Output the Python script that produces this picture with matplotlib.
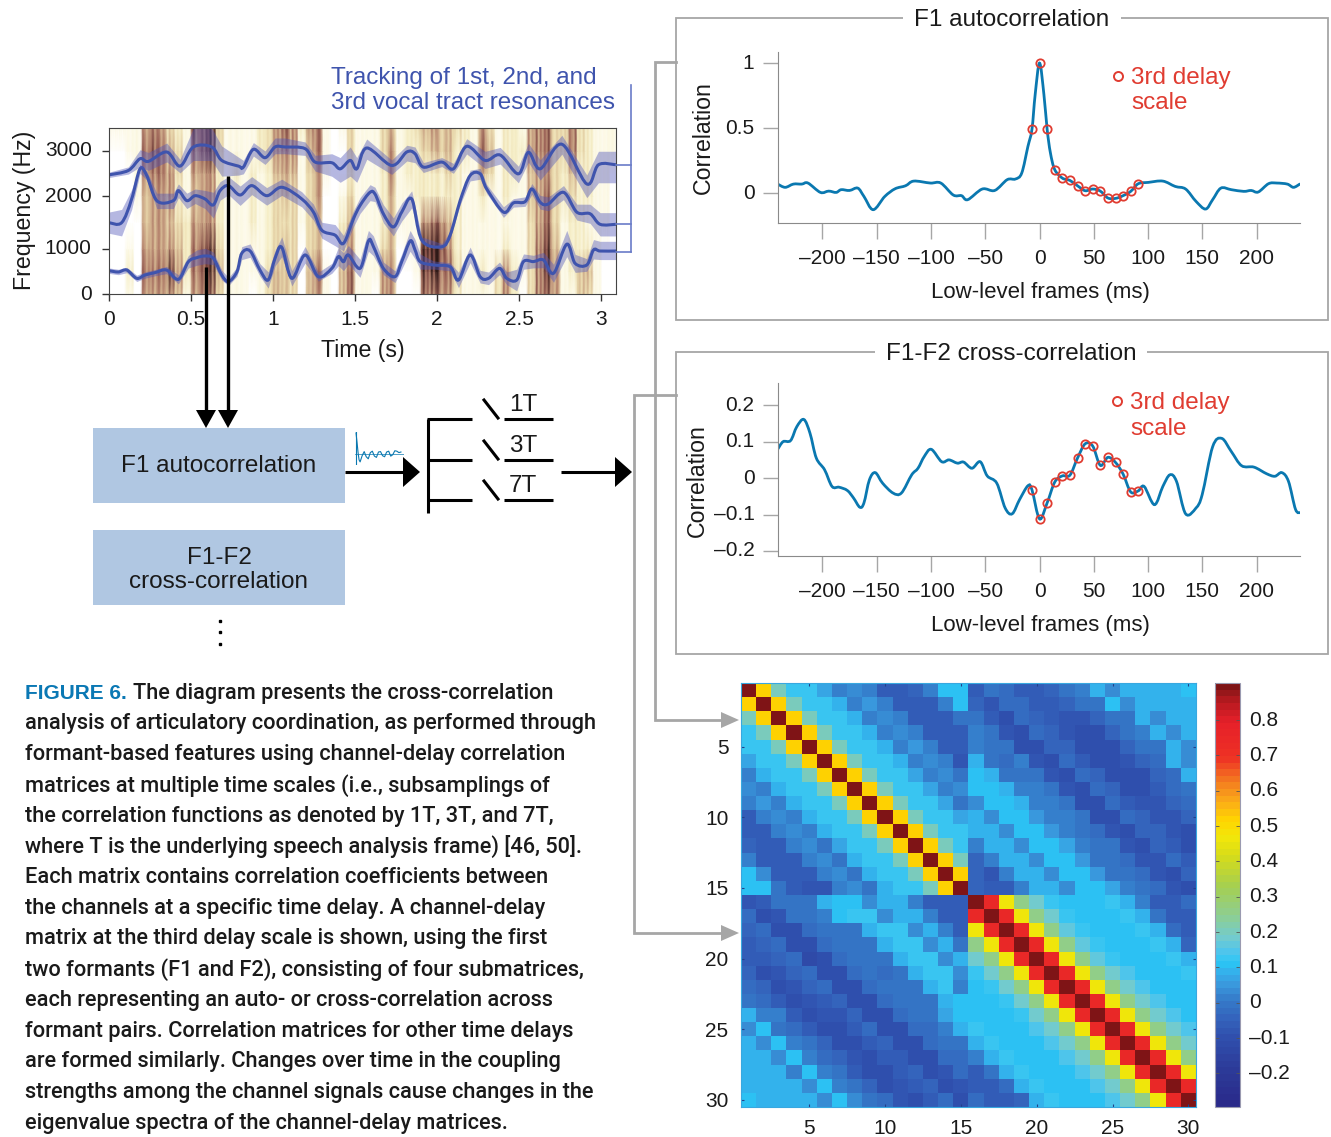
# -*- coding: utf-8 -*-
"""Channel-delay correlation figure: spectrogram, two correlation plots, matrix"""

import matplotlib

matplotlib.use("Agg")
import matplotlib.pyplot as plt
from matplotlib.colors import LinearSegmentedColormap
from matplotlib.patches import PathPatch, Polygon, Rectangle
from matplotlib.path import Path
from numpy import array, concatenate, interp, repeat

plt.rcParams["font.family"] = ["Liberation Sans", "DejaVu Sans"]

W, H = 1331, 1137

# Spectrogram intensity, one row per frequency, one digit per 0.05 s
spec_freqs = [0, 500, 1000, 1500, 2000, 2500, 3000, 3511]
spec_rows = [
    "0010555541" "5663111013" "4430451046" "1105500066" "6521111352" "036651143100",
    "0020666752" "6774111113" "4430461046" "1115500178" "7631121352" "136751244100",
    "0010555542" "6773111112" "3430340035" "1113401189" "8521111121" "136741222100",
    "0000455432" "5552111212" "3331340024" "1112411156" "6421111111" "135631221110",
    "0001455521" "4552111212" "3431350013" "1112411222" "2221121121" "145632322110",
    "0001566531" "5552121212" "4541351002" "1112512222" "2321143122" "145532422110",
    "0011676431" "6773111123" "5651461003" "1113512234" "4422164122" "256633632111",
    "1111565321" "7773111123" "5752561013" "1113412345" "4432153122" "156633632111",
]
# Fine vertical striping, one digit per 0.0125 s
spec_streaks = (
    "64263728150739418625" "37158264093716285947" "58143627591847362058" "26937415082639471526"
    "73825164093827154639" "15847362905172836491" "36082745193618274950" "27491638052749361827"
    "93048291730918264837" "15938264720593817462" "47269153806274915283" "72936418250739164827"
    "16385"
    "940"
)

# Formant tracks (s, Hz) and band widths (Hz)
f1_t = [0, .057, .108, .169, .22, .28, .35, .423, .484, .535, .585, .636, .687, .728,
        .78, .809, .86, .92, .97, 1.012, 1.053, 1.114, 1.195, 1.276, 1.358, 1.398, 1.429,
        1.459, 1.53, 1.581, 1.611, 1.672, 1.743, 1.784, 1.835, 1.865, 1.896, 1.977, 2.079,
        2.13, 2.201, 2.262, 2.313, 2.38, 2.424, 2.485, 2.526, 2.587, 2.648, 2.709, 2.79,
        2.841, 2.912, 2.953, 2.993, 3.09]
f1_hz = [518, 489, 533, 348, 422, 474, 533, 326, 718, 807, 844, 793, 422, 274,
         496, 904, 956, 533, 311, 793, 1030, 348, 867, 385, 570, 830, 718,
         867, 570, 1150, 1050, 570, 385, 720, 1150, 980, 720, 645, 605,
         311, 867, 385, 348, 570, 348, 311, 720, 720, 755, 460, 1090,
         680, 645, 978, 955, 955]
f1_w = [60, 60, 60, 70, 70, 70, 80, 100, 140, 170, 170, 140, 110, 90,
        100, 140, 140, 140, 180, 170, 200, 170, 180, 100, 110, 200, 200,
        200, 200, 200, 200, 140, 130, 170, 200, 200, 170, 90, 90,
        170, 170, 140, 140, 140, 140, 240, 170, 140, 170, 200, 260,
        200, 140, 200, 190, 190]

f2_t = [0, .077, .138, .189, .23, .291, .392, .423, .474, .525, .585, .636, .677, .728,
        .799, .87, .961, 1.053, 1.175, 1.246, 1.297, 1.378, 1.429, 1.49,
        1.53, 1.591, 1.621, 1.672, 1.733, 1.784, 1.845, 1.906, 2.028, 2.079, 2.14, 2.201,
        2.262, 2.302, 2.404, 2.465, 2.536, 2.577, 2.628, 2.678, 2.77, 2.851, 2.932, 2.993,
        3.09]
f2_hz = [1497, 1497, 1944, 2604, 2455, 1913, 1913, 2119, 1913, 2007, 1944, 1832, 2119, 2231,
         2022, 2231, 2007, 2194, 1944, 1696, 1354, 1261, 1106, 1571,
         1820, 2082, 2045, 1665, 1416, 1696, 1944, 1168, 1043, 1261, 1913, 2455,
         2493, 2157, 1696, 1870, 1894, 2157, 1882, 1851, 2082, 1696, 1665, 1466,
         1466]
f2_w = [200, 250, 200, 100, 100, 150, 150, 150, 150, 150, 180, 250, 200, 200,
        200, 200, 180, 180, 150, 150, 150, 200, 150, 150,
        150, 170, 150, 170, 170, 170, 170, 60, 60, 60, 80, 120,
        120, 100, 100, 80, 90, 120, 130, 130, 150, 150, 180, 220,
        220]

f3_t = [0, .118, .189, .24, .352, .433, .514, .626, .687, .789, .819, .88, .951, 1.012,
        1.073, 1.195, 1.256, 1.358, 1.409, 1.47, 1.51, 1.571, 1.723, 1.815, 1.865, 1.916,
        2.028, 2.099, 2.18, 2.292, 2.384, 2.495, 2.556, 2.628, 2.76, 2.912, 2.983, 3.09]
f3_hz = [2470, 2567, 2828, 2769, 2978, 2664, 3089, 3089, 2791, 2664, 2642, 3037, 2851, 3089,
         3089, 3052, 2754, 2739, 2604, 2791, 2604, 3067, 2679, 2978, 2940, 2642,
         2754, 2604, 3104, 2791, 2910, 2492, 2970, 2604, 3150, 2268, 2694, 2694]
f3_up = [60, 80, 200, 200, 200, 150, 420, 420, 320, 200, 150, 150, 150, 200,
         200, 150, 150, 200, 250, 300, 250, 200, 120, 150, 150, 100,
         100, 120, 170, 200, 170, 170, 200, 200, 200, 200, 300, 300]
f3_dn = [60, 80, 180, 200, 220, 150, 300, 300, 350, 200, 150, 150, 150, 150,
         150, 150, 200, 300, 300, 350, 300, 250, 200, 200, 200, 120,
         100, 100, 170, 180, 200, 200, 220, 250, 220, 300, 400, 400]

# F1 autocorrelation
auto_ms = [-241.3, -234.4, -226.8, -219.1, -213.4, -201.9, -194.3, -187.4, -182.8, -175.1,
           -167.5, -161.8, -153.3, -142.6, -133.1, -123.5, -115.9, -100.6, -91, -79.5,
           -71.9, -66.2, -52.8, -41.3, -29.8, -22.2, -16.4, -10.7, -7, -4, 0, 4, 7, 10,
           14, 21, 28, 35, 42, 49, 56, 63, 70, 77, 84, 91, 100.2, 113.6, 125, 134.6, 144.2,
           153, 159.5, 167.1, 176.7, 188.1, 195, 201.5, 211, 218.7, 228.3, 234, 239.8]
auto_r = [.069, .044, .069, .069, .077, .005, .015, .005, .026, .02,
          .038, -.026, -.128, -.026, .033, .056, .092, .077, .077, -.015,
          -.02, -.051, .031, .02, .103, .108, .154, .359, .49, .76, 1, .76, .49, .31,
          .18, .115, .097, .056, .018, .031, .015, -.038, -.041, -.02, .013, .072, .082,
          .092, .051, .031, -.064, -.123, -.051, .038, .026, .013, .02, .008, .072, .077,
          .069, .044, .069]

# F1-F2 cross-correlation
cross_ms = [-241.3, -236.3, -229.4, -223.7, -217.2, -211.5, -205.7, -198.1, -191.2, -184.7,
            -177.1, -171.3, -165.6, -161.8, -156.8, -151.4, -144.6, -135, -127.3, -117.8,
            -112, -106.3, -99.8, -90.2, -83.4, -75.7, -70, -62.3, -54.7, -48.2, -39.4, -31.7,
            -25.2, -18.4, -10.7, -7, 0, 7, 14, 21, 28, 35, 42, 49, 56, 63, 70, 77, 84, 91,
            96.4, 105.9, 113.6, 120.1, 126.2, 134.6, 144.2, 149.9, 159.5, 167.9, 176.7,
            186.2, 197.7, 209.2, 216.8, 223.3, 229.4, 235.9, 240.5]
cross_r = [.079, .1, .103, .141, .161, .123, .055, .023, -.023, -.025,
           -.034, -.055, -.08, -.068, -.005, .015, -.014, -.041, -.041, .009,
           .027, .059, .079, .045, .05, .041, .044, .027, .045, .006, -.014, -.082,
           -.098, -.059, -.021, -.032, -.112, -.068, -.011, .006, .008, .055, .094, .088,
           .035, .057, .043, .011, -.038, -.035, -.023, -.073, -.023, .009, -.009, -.098,
           -.082, -.045, .086, .109, .073, .034, .03, .012, .005, .015, -.009, -.086, -.095]

# 3rd delay scale samples
delay_ms = [-7, 0, 7, 14, 21, 28, 35, 42, 49, 56, 63, 70, 77, 84, 91]
delay_auto = [.49, 1, .49, .18, .115, .097, .056, .018, .031, .015, -.038, -.041, -.02, .013, .072]
delay_cross = [-.032, -.112, -.068, -.011, .006, .008, .055, .094, .088, .035, .057, .043,
               .011, -.038, -.035]

# Small sketch of a correlation function next to the first box
sketch_lag = [0, 1, 2, 3, 4, 6, 8, 10, 12, 14, 16, 18, 20, 22, 24, 26, 28, 30, 32, 34, 36, 38, 40, 42, 44]
sketch_r = [1, .55, .05, -.3, -.4, -.1, .1, -.15, -.25, .05, .12, -.12, -.18, .08, .1, -.1, -.15,
            .08, .12, -.12, -.05, .14, .12, .05, .08]

# Channel-delay matrix in hundredths, four submatrices
m_f1f1 = [
    [90, 52, 20, 12, 12, 7, 1, 4, 1, -6, -6, -5, 1, 11, 11],
    [52, 90, 52, 20, 12, 12, 8, 1, 5, 2, -6, -6, -6, 1, 11],
    [20, 52, 90, 52, 20, 12, 12, 8, 2, 4, 1, -6, -7, -6, 0],
    [12, 20, 52, 90, 52, 20, 12, 12, 8, 1, 4, 2, -7, -7, -6],
    [12, 12, 20, 52, 90, 52, 20, 12, 12, 8, 1, 5, 2, -7, -7],
    [7, 12, 12, 20, 52, 90, 52, 20, 12, 12, 8, 1, 4, 1, -8],
    [1, 8, 12, 12, 20, 52, 90, 52, 20, 12, 12, 7, 1, 4, -1],
    [4, 1, 8, 12, 12, 20, 52, 90, 52, 20, 12, 12, 7, 1, 3],
    [1, 5, 2, 8, 12, 12, 20, 52, 90, 52, 20, 12, 12, 7, 0],
    [-6, 2, 4, 1, 8, 12, 12, 20, 52, 90, 52, 20, 12, 12, 7],
    [-6, -6, 2, 4, 1, 8, 12, 12, 20, 52, 90, 52, 20, 12, 12],
    [-5, -6, -6, 1, 4, 0, 7, 12, 12, 20, 52, 90, 52, 20, 12],
    [1, -6, -7, -7, 1, 3, 0, 8, 12, 12, 20, 52, 90, 52, 20],
    [11, 3, -6, -7, -7, 1, 4, 0, 8, 12, 12, 20, 52, 90, 52],
    [11, 11, 0, -6, -8, -8, 1, 3, 0, 8, 12, 12, 20, 52, 90],
]
m_f1f2 = [
    [-7, -1, -2, -6, -7, -4, 0, 1, 9, 4, 9, 9, 9, 9, 10],
    [-5, -8, -2, -3, -7, -7, -4, 0, 0, 10, 4, 8, 8, 8, 8],
    [-1, -7, -9, -2, -4, -7, -8, -8, -4, -1, 0, 9, 4, 8, 8],
    [1, 0, -8, -9, -3, -4, -8, -9, -9, -5, -1, 1, 9, 4, 8],
    [2, 0, -1, -9, -10, -4, -5, -9, -9, -9, -5, -1, 0, 9, 4],
    [9, -1, -2, 1, -8, -10, -3, -6, -10, -10, -8, -5, -3, 9, 3],
    [11, 8, 0, 0, -1, -8, -10, -3, -5, -9, -10, -9, -5, -2, 9],
    [11, 11, 8, 2, 2, -1, -8, -10, -3, -5, -9, -9, -6, -2, 0],
    [4, 11, 11, 8, 2, 2, -1, -9, -10, -3, -6, -8, -8, -5, -2],
    [8, 4, 11, 11, 6, 1, 1, 0, -9, -10, -3, -5, -8, -8, -5],
    [8, 8, 3, 11, 11, 6, 1, 0, -2, -8, -9, -4, -5, -8, -9],
    [1, 8, 8, 3, 11, 11, 7, 1, 0, -1, -8, -9, -4, -7, -9],
    [-5, 2, 8, 8, 3, 11, 11, 6, 0, -1, -2, -8, -8, -3, -6],
    [-5, -8, 1, 9, 8, 4, 11, 11, 6, 0, -1, -3, -8, -9, -5],
    [-5, -6, -7, 2, 8, 8, 4, 11, 11, 7, 1, 0, -3, -8, -9],
]
m_f2f1 = [
    [-8, -7, -1, 0, 0, 9, 11, 11, 3, 9, 9, 1, -7, -6, -6],
    [-2, -9, -8, -1, 0, 1, 10, 12, 12, 3, 8, 8, 1, -7, -6],
    [-5, -2, -9, -9, -2, -1, 0, 0, 9, 12, 12, 3, 8, 2, -7],
    [-7, -4, -2, -10, -10, -2, -1, 0, 0, 8, 12, 12, 3, 9, 0],
    [-7, -7, -4, -3, -11, -10, -3, -1, -1, 0, 8, 12, 12, 3, 8],
    [-4, -9, -8, -5, -3, -10, -10, -3, -1, -2, 0, 9, 12, 12, 3],
    [-2, -5, -9, -8, -5, -3, -10, -10, -3, -1, -1, 0, 9, 12, 2],
    [0, -2, -6, -9, -8, -6, -4, -9, -10, -2, -1, 0, 0, 9, 11],
    [9, 2, 1, -6, -9, -8, -8, -5, -10, -10, -3, -1, -1, 7, 11],
    [3, 10, 0, -2, -6, -10, -10, -7, -3, -10, -10, -3, -2, 1, 8],
    [9, 3, 11, 1, -1, -4, -9, -9, -7, -5, -10, -10, -2, -1, -1],
    [9, 9, 3, 11, 2, -2, -5, -8, -9, -7, -6, -10, -10, -3, -2],
    [9, 9, 9, 2, 11, 2, 0, -6, -9, -9, -7, -4, -10, -8, -3],
    [9, 9, 9, 9, 4, 11, 2, -1, -4, -9, -8, -7, -4, -9, -8],
    [11, 9, 9, 9, 9, 3, 10, 4, 0, -2, -8, -9, -6, -3, -9],
]
m_f2f2 = [
    [90, 75, 47, 25, 18, 13, 11, 11, 11, 13, 9, 1, -7, -7, -3],
    [75, 90, 75, 47, 25, 18, 13, 11, 11, 11, 12, 8, 0, -7, -7],
    [47, 75, 90, 75, 47, 25, 17, 13, 11, 11, 11, 13, 8, -2, -7],
    [25, 47, 75, 90, 75, 47, 25, 17, 13, 11, 11, 11, 13, 9, -5],
    [18, 25, 47, 75, 90, 75, 47, 25, 17, 13, 11, 11, 11, 13, 9],
    [13, 18, 25, 47, 75, 90, 75, 47, 25, 18, 14, 11, 11, 11, 13],
    [11, 13, 18, 25, 47, 75, 90, 75, 47, 25, 18, 14, 11, 11, 11],
    [11, 11, 13, 18, 25, 47, 75, 90, 75, 47, 25, 18, 14, 11, 11],
    [11, 11, 11, 13, 18, 25, 47, 75, 90, 75, 47, 25, 18, 14, 11],
    [13, 11, 11, 11, 14, 18, 25, 47, 75, 90, 75, 47, 25, 18, 14],
    [9, 13, 11, 11, 11, 14, 18, 25, 47, 75, 90, 75, 47, 25, 18],
    [1, 8, 13, 11, 11, 11, 14, 18, 25, 47, 75, 90, 75, 47, 25],
    [-7, 0, 8, 13, 11, 11, 11, 14, 18, 25, 47, 75, 90, 75, 47],
    [-7, -7, -2, 9, 13, 11, 11, 11, 14, 18, 25, 47, 75, 90, 75],
    [-3, -7, -7, -5, 9, 13, 11, 11, 11, 14, 18, 25, 47, 75, 90],
]

lag_ticks = [-200, -150, -100, -50, 0, 50, 100, 150, 200]
matrix_ticks = [5, 10, 15, 20, 25, 30]
cbar_ticks = [-0.2, -0.1, 0, 0.1, 0.2, 0.3, 0.4, 0.5, 0.6, 0.7, 0.8]

caption = [
    "analysis of articulatory coordination, as performed through",
    "formant-based features using channel-delay correlation",
    "matrices at multiple time scales (i.e., subsamplings of",
    "the correlation functions as denoted by 1T, 3T, and 7T,",
    "where T is the underlying speech analysis frame) [46, 50].",
    "Each matrix contains correlation coefficients between",
    "the channels at a specific time delay. A channel-delay",
    "matrix at the third delay scale is shown, using the first",
    "two formants (F1 and F2), consisting of four submatrices,",
    "each representing an auto- or cross-correlation across",
    "formant pairs. Correlation matrices for other time delays",
    "are formed similarly. Changes over time in the coupling",
    "strengths among the channel signals cause changes in the",
    "eigenvalue spectra of the channel-delay matrices.",
]

TEXT = "#1a1a1a"
GRAY = "#a6a6a6"
TRACK = "#3f54ad"
LINE = "#0a78b0"
RED = "#e03c31"
BOX = "#b0c7e2"
TICK_FS = 15
LABEL_FS = 16
WIDE_FS = 17.5
AXIS_FS = 16.7
CAPTION = dict(fontsize=15.68, family="Roboto", fontweight="medium", va="center")


def px_axes(x0, y0, x1, y1, **kwargs):
    """Axes placed with picture pixels, y counted from the top"""
    return fig.add_axes([x0 / W, 1 - y1 / H, (x1 - x0) / W, (y1 - y0) / H], **kwargs)


def smooth_curve(ax, xs, ys, color, lw):
    """Curve through the read points, bezier handles from the neighbours"""
    verts = [(xs[0], ys[0])]
    codes = [Path.MOVETO]
    n = len(xs)
    for i in range(n - 1):
        a, d = max(i - 1, 0), min(i + 2, n - 1)
        verts.append((xs[i] + (xs[i + 1] - xs[a]) / 6, ys[i] + (ys[i + 1] - ys[a]) / 6))
        verts.append((xs[i + 1] - (xs[d] - xs[i]) / 6, ys[i + 1] - (ys[d] - ys[i]) / 6))
        verts.append((xs[i + 1], ys[i + 1]))
        codes += [Path.CURVE4, Path.CURVE4, Path.CURVE4]
    ax.add_patch(PathPatch(Path(verts, codes), fc="none", ec=color, lw=lw, capstyle="round"))


def arrow(x0, y0, x1, y1, color="black", lw=2.2, hl=18, hw=15):
    """Straight horizontal or vertical arrow, in overlay pixels"""
    dx = (x1 > x0) - (x1 < x0)
    dy = (y1 > y0) - (y1 < y0)
    ov.plot([x0, x1 - dx * hl / 2], [y0, y1 - dy * hl / 2], color=color, lw=lw, solid_capstyle="butt")
    bx, by = x1 - dx * hl, y1 - dy * hl
    pts = [(x1, y1), (bx - dy * hw, by + dx * hw), (bx + dy * hw, by - dx * hw)]
    ov.add_patch(Polygon(pts, closed=True, fc=color, ec="none"))


def correlation_panel(box, ylim, yticks, ylabels, r_ms, r_val, d_val, ylabel_xy):
    ax = px_axes(*box)
    ax.patch.set_alpha(0)
    smooth_curve(ax, r_ms, r_val, LINE, 2)
    ax.plot(delay_ms, d_val, ls="none", marker="o", ms=6, mfc="none", mec=RED, mew=1.3)
    ax.set_xlim(-241, 240)
    ax.set_ylim(*ylim)
    ax.set_xticks(lag_ticks)
    ax.set_xticklabels([str(v).replace("-", "\u2013") for v in lag_ticks])
    ax.set_yticks(yticks)
    ax.set_yticklabels(ylabels, va="center")
    ax.tick_params(length=11.5, width=1, color=GRAY, labelsize=TICK_FS, labelcolor=TEXT)
    ax.tick_params(axis="x", pad=7.5)
    ax.tick_params(axis="y", pad=6, length=11)
    for side in ["top", "right"]:
        ax.spines[side].set_visible(False)
    for side in ["left", "bottom"]:
        ax.spines[side].set_color("#8a8a8a")
    ax.set_xlabel("Low-level frames (ms)", fontsize=LABEL_FS, color=TEXT)
    ax.xaxis.set_label_coords(0.502, -0.345)
    ax.set_ylabel("Correlation", fontsize=AXIS_FS, color=TEXT)
    ax.yaxis.set_label_coords(*ylabel_xy)
    return ax


fig = plt.figure(figsize=(W / 100, H / 100), dpi=100, facecolor="white")

# spectrogram with formant tracks
ax = px_axes(109, 128, 616, 294)
spec_cmap = LinearSegmentedColormap.from_list(
    "spec",
    ["#ffffff", "#fdfae8", "#f6efc8", "#ecdcaf", "#dcc29a", "#c8a183",
     "#b27e6a", "#975c53", "#6a3a36", "#2f1a18"],
)
bands = array([[int(c) for c in row] for row in spec_rows], dtype=float)
streaks = 0.72 + 0.06 * array([int(c) for c in spec_streaks])
spec = repeat(bands, 4, axis=1) * streaks
spec_t = (array(range(spec.shape[1])) + 0.5) * 0.0125
spec_pos = [0, 45, 98, 143, 166]
spec_val = [0, 1000, 2000, 3000, 3511]
ax.set_yscale("function", functions=(
    lambda v: interp(v, spec_val, spec_pos),
    lambda p: interp(p, spec_pos, spec_val),
))
ax.pcolormesh(spec_t, spec_freqs, spec, shading="gouraud", cmap=spec_cmap, vmin=0, vmax=9)
for t, hz, up, dn in [
    (f1_t, f1_hz, f1_w, f1_w),
    (f2_t, f2_hz, f2_w, f2_w),
    (f3_t, f3_hz, f3_up, f3_dn),
]:
    t, hz, up, dn = array(t), array(hz), array(up), array(dn)
    ax.fill_between(t, hz - dn, hz + up, color="#5055b8", alpha=0.42, lw=0)
    smooth_curve(ax, list(t), list(hz), TRACK, 2.2)
ax.set_xlim(0, 3.09)
ax.set_ylim(0, 3511)
ax.set_xticks([0, 0.5, 1, 1.5, 2, 2.5, 3])
ax.set_xticklabels(["0", "0.5", "1", "1.5", "2", "2.5", "3"])
ax.set_yticks([0, 1000, 2000, 3000])
ax.set_yticklabels(["0", "1000", "2000", "3000"], va="center")
ax.minorticks_off()
ax.tick_params(length=5, width=1, color="#333333", labelsize=TICK_FS, labelcolor=TEXT)
ax.tick_params(axis="x", pad=6.5)
ax.tick_params(axis="y", pad=7.5)
for spine in ax.spines.values():
    spine.set_color("#444444")
ax.set_xlabel("Time (s)", fontsize=AXIS_FS, color=TEXT)
ax.xaxis.set_label_coords(0.501, -0.27)
ax.set_ylabel("Frequency (Hz)", fontsize=AXIS_FS, color=TEXT)
ax.yaxis.set_label_coords(-0.143, 0.506)

# correlation functions
correlation_panel((778, 52, 1300, 222.7), (-0.228, 1.085), [0, 0.5, 1], ["0", "0.5", "1"],
                  auto_ms, auto_r, delay_auto, (-0.121, 0.5))
correlation_panel((778, 383, 1300, 555.7), (-0.213, 0.261), [-0.2, -0.1, 0, 0.1, 0.2],
                  ["\u20130.2", "\u20130.1", "0", "0.1", "0.2"],
                  cross_ms, cross_r, delay_cross, (-0.132, 0.4325))

# channel-delay matrix
matrix = concatenate([
    concatenate([array(m_f1f1), array(m_f1f2)], axis=1),
    concatenate([array(m_f2f1), array(m_f2f2)], axis=1),
], axis=0) / 100.0
vmin, vmax = -0.295, 0.905
stops = [
    (-0.295, "#2a2a8a"), (-0.2, "#2c3a98"), (-0.1, "#3050ae"), (-0.05, "#3463bc"),
    (0.0, "#3579c8"), (0.05, "#3a9ade"), (0.09, "#33b5ee"), (0.11, "#2ac6f5"),
    (0.14, "#4cc5ee"), (0.18, "#72cbd0"), (0.25, "#8fce8e"), (0.33, "#a5cf50"),
    (0.42, "#d8dc18"), (0.47, "#f2e70a"), (0.52, "#ffd500"), (0.57, "#fbae17"),
    (0.63, "#f47c20"), (0.7, "#ee3124"), (0.8, "#e6202a"), (0.86, "#b81a20"),
    (0.905, "#7f1416"),
]
matrix_cmap = LinearSegmentedColormap.from_list(
    "matrix", [((v - vmin) / (vmax - vmin), c) for v, c in stops], N=64
)
ax = px_axes(741, 683, 1196, 1107)
im = ax.imshow(matrix, cmap=matrix_cmap, vmin=vmin, vmax=vmax, aspect="auto",
               extent=(0.5, 30.5, 30.5, 0.5), interpolation="nearest")
ax.set_xticks(matrix_ticks)
ax.set_yticks(matrix_ticks)
ax.tick_params(direction="in", length=2, width=0.8, color="#22408a", top=True, right=True,
               labelsize=TICK_FS, labelcolor=TEXT)
ax.tick_params(axis="x", pad=8.5)
ax.tick_params(axis="y", pad=9)
for spine in ax.spines.values():
    spine.set_color("#38a8e0")

cax = px_axes(1215, 683, 1240, 1107)
cb = fig.colorbar(im, cax=cax)
cb.set_ticks(cbar_ticks)
cb.set_ticklabels([f"{v:g}".replace("-", "\u2013") for v in cbar_ticks], va="center")
cb.ax.tick_params(direction="in", length=3, width=0.6, color="#555555", left=True, right=True,
                  labelsize=TICK_FS, labelcolor=TEXT, pad=6.5)
cb.outline.set_edgecolor("#9a9ab0")
cb.outline.set_linewidth(0.8)

# small correlation sketch above the first arrow
ax = px_axes(355, 432, 404, 465)
ax.patch.set_alpha(0)
ax.plot(sketch_lag, sketch_r, color=LINE, lw=0.8)
ax.set_xlim(-1, 47)
ax.set_ylim(-0.55, 1.05)
ax.axhline(0, color=LINE, lw=0.5)
ax.axvline(0, color=LINE, lw=0.8)
ax.axis("off")

# diagram parts, texts and connectors in picture pixels
ov = fig.add_axes([0, 0, 1, 1], zorder=10)
ov.set_xlim(0, W)
ov.set_ylim(H, 0)
ov.axis("off")
ov.patch.set_alpha(0)

for y0, y1 in [(18, 320), (352, 654)]:
    ov.add_patch(Rectangle((676, y0), 652, y1 - y0, fc="none", ec=GRAY, lw=1.3))
ov.text(1012, 19.5, "F1 autocorrelation", fontsize=WIDE_FS, color=TEXT, ha="center", va="center",
        bbox=dict(fc="white", ec="none", pad=8))
ov.text(1011, 353.5, "F1-F2 cross-correlation", fontsize=WIDE_FS, color=TEXT, ha="center", va="center",
        bbox=dict(fc="white", ec="none", pad=8))

ov.plot([1118], [76], ls="none", marker="o", ms=6.5, mfc="none", mec=RED, mew=1.4)
ov.plot([1117], [401], ls="none", marker="o", ms=6.5, mfc="none", mec=RED, mew=1.4)
for x, y, s in [(1131, 78, "3rd delay"), (1131, 103, "scale"), (1130, 403, "3rd delay"), (1130, 429, "scale")]:
    ov.text(x, y, s, fontsize=WIDE_FS, color=RED, ha="left", va="center")

ov.text(331, 78, "Tracking of 1st, 2nd, and", fontsize=WIDE_FS, color=TRACK, va="center")
ov.text(331, 103, "3rd vocal tract resonances", fontsize=WIDE_FS, color=TRACK, va="center")
ov.plot([631, 631], [85, 252], color="#6a7cc8", lw=1.2)
for y in [165, 224, 252]:
    ov.plot([616, 631], [y, y], color="#6a7cc8", lw=1.2)

arrow(206, 267, 206, 428, lw=2.4, hl=18, hw=10)
arrow(228, 176, 228, 428, lw=2.4, hl=18, hw=10)

ov.add_patch(Rectangle((93, 428), 252, 75, fc=BOX, ec="none"))
ov.add_patch(Rectangle((93, 530), 252, 75, fc=BOX, ec="none"))
ov.text(219, 466.5, "F1 autocorrelation", fontsize=WIDE_FS, color=TEXT, ha="center", va="center")
ov.text(219, 557.5, "F1-F2", fontsize=WIDE_FS, color=TEXT, ha="center", va="center")
ov.text(219, 581.5, "cross-correlation", fontsize=WIDE_FS, color=TEXT, ha="center", va="center")
ov.plot([220, 220, 220], [621, 632, 644], ls="none", marker="s", ms=2.1, color="black")

arrow(345, 472, 420, 472, lw=2.2, hl=17, hw=15)
arrow(561, 472, 632, 472, lw=2.2, hl=17, hw=15)

ov.plot([428, 428], [419, 513], color="black", lw=2.2, solid_capstyle="butt")
for y, s, dy in [(419, "1T", -14), (460, "3T", -14), (500, "7T", -13.5)]:
    ov.plot([427, 472], [y, y], color="black", lw=2.2, solid_capstyle="butt")
    ov.plot([484, 498], [y - 19, y - 1], color="black", lw=2.2)
    ov.plot([504, 553], [y, y], color="black", lw=2.2, solid_capstyle="butt")
    ov.text(523, y + dy, s, fontsize=WIDE_FS, color=TEXT, ha="center", va="center")

ov.plot([676, 655, 655, 725], [62, 62, 720, 720], color=GRAY, lw=2, solid_joinstyle="miter")
ov.plot([676, 634, 634, 725], [395, 395, 933, 933], color=GRAY, lw=2, solid_joinstyle="miter")
for y in [720, 933]:
    ov.add_patch(Polygon([(739, y), (721, y - 8), (721, y + 8)], closed=True, fc=GRAY, ec="none"))

# caption
ov.text(25, 693.5, "FIGURE 6.", fontsize=15, fontweight="bold", color="#0a78b4", va="center")
ov.text(133, 693.5, "The diagram presents the cross-correlation", color=TEXT, **CAPTION)
for i, line in enumerate(caption):
    ov.text(25, 724 + i * 30.7, line, color=TEXT, **CAPTION)

fig.savefig("out.png", dpi=100)
